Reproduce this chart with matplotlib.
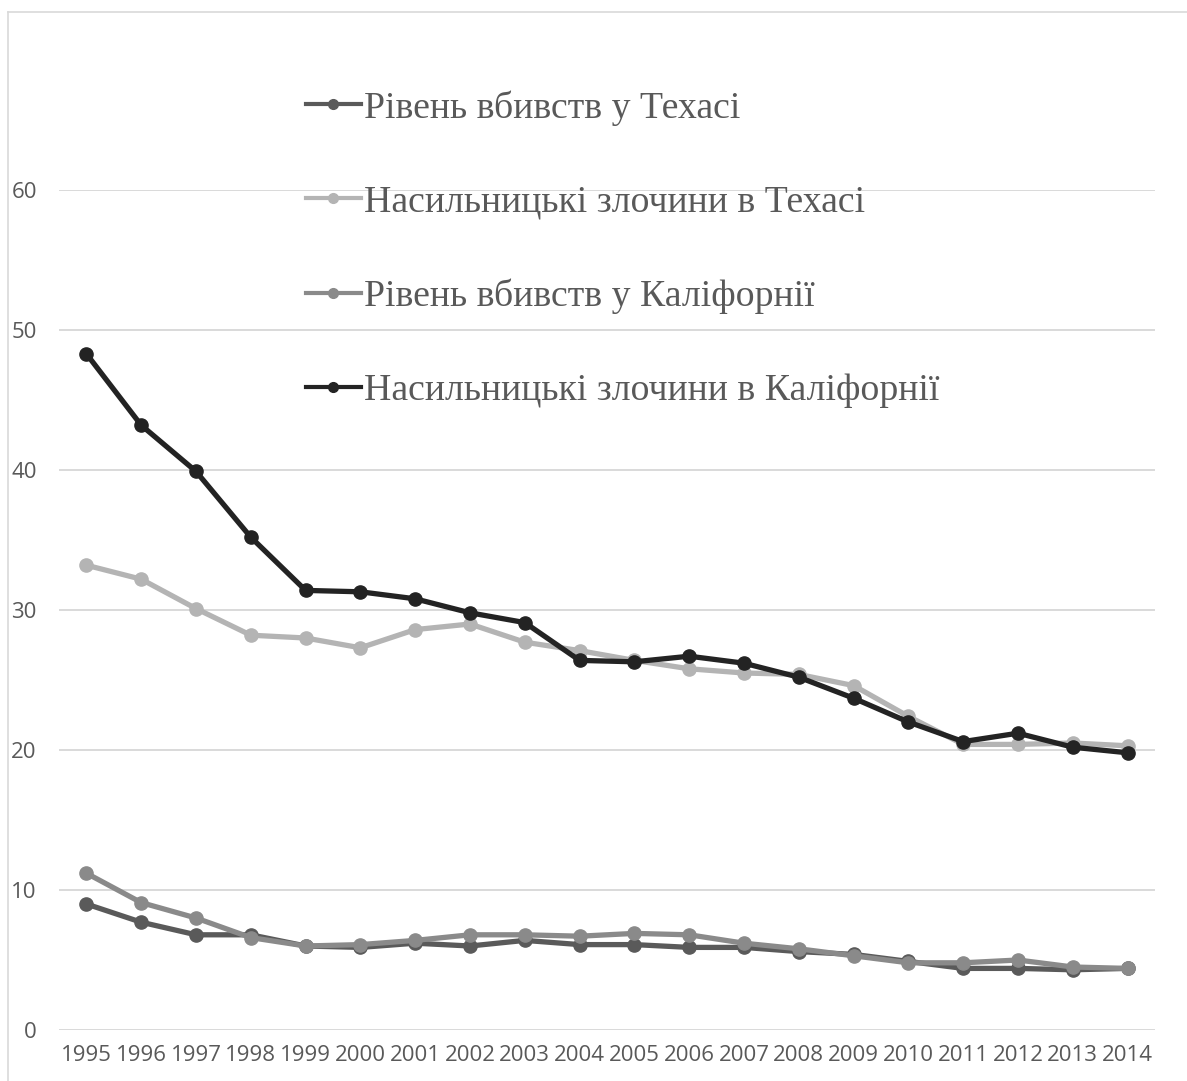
import matplotlib.pyplot as plt
from matplotlib.lines import Line2D

years = [str(y) for y in range(1995, 2015)]

tx_murder = [9.0, 7.7, 6.8, 6.8, 6.0, 5.9, 6.2, 6.0, 6.4, 6.1,
             6.1, 5.9, 5.9, 5.6, 5.4, 4.9, 4.4, 4.4, 4.3, 4.4]
tx_violent = [33.2, 32.2, 30.1, 28.2, 28.0, 27.3, 28.6, 29.0, 27.7, 27.1,
              26.4, 25.8, 25.5, 25.4, 24.6, 22.4, 20.4, 20.4, 20.5, 20.3]
ca_murder = [11.2, 9.1, 8.0, 6.6, 6.0, 6.1, 6.4, 6.8, 6.8, 6.7,
             6.9, 6.8, 6.2, 5.8, 5.3, 4.8, 4.8, 5.0, 4.5, 4.4]
ca_violent = [48.3, 43.2, 39.9, 35.2, 31.4, 31.3, 30.8, 29.8, 29.1, 26.4,
              26.3, 26.7, 26.2, 25.2, 23.7, 22.0, 20.6, 21.2, 20.2, 19.8]

labels = ['Рівень вбивств у Техасі',
          'Насильницькі злочини в Техасі',
          'Рівень вбивств у Каліфорнії',
          'Насильницькі злочини в Каліфорнії']
colors = ['#5a5a5a', '#b4b4b4', '#8a8a8a', '#232323']

W, H = 1187, 1081
fig = plt.figure(figsize=(W / 100, H / 100), dpi=100)
ax = fig.add_axes([59 / W, 51 / H, (1155 - 59) / W, (1030 - 190) / H])

x = range(len(years))
for vals, c in zip([tx_murder, tx_violent, ca_murder, ca_violent], colors):
    ax.plot(x, vals, color=c, lw=3.8, marker='o', ms=9.5, solid_joinstyle='round')

ax.set_xlim(-0.5, len(years) - 0.5)
ax.set_ylim(0, 60)
ax.set_yticks(range(0, 61, 10))
ax.set_xticks(list(x))
ax.set_xticklabels(years)
ax.grid(axis='y', color='#d9d9d9', lw=1.4)
ax.set_axisbelow(True)
for s in ax.spines.values():
    s.set_visible(False)
ax.tick_params(length=0, labelsize=16, labelcolor='#595959')
for t in ax.get_xticklabels() + ax.get_yticklabels():
    t.set_family('Open Sans')
ax.tick_params(axis='x', pad=11)
ax.tick_params(axis='y', pad=16)

# legend above / inside the plot, like the excel chart
handles = [Line2D([], [], color=c, lw=3, marker='o', ms=7) for c in colors]
fig.legend(handles, labels, loc='upper left', bbox_to_anchor=(306 / W, 1 - 90 / H),
           frameon=False, prop={'family': 'Liberation Serif', 'size': 27.2},
           labelcolor='#595959', handlelength=1.45, handletextpad=0.08,
           labelspacing=1.57, borderpad=0, borderaxespad=0)

# outer chart frame (only top/left visible in the crop)
fig.add_artist(Line2D([8 / W, 8 / W], [0, 1 - 12 / H], color='#d9d9d9', lw=1.2))
fig.add_artist(Line2D([8 / W, 1], [1 - 12 / H, 1 - 12 / H], color='#d9d9d9', lw=1.2))

fig.savefig('out.png', dpi=100)
